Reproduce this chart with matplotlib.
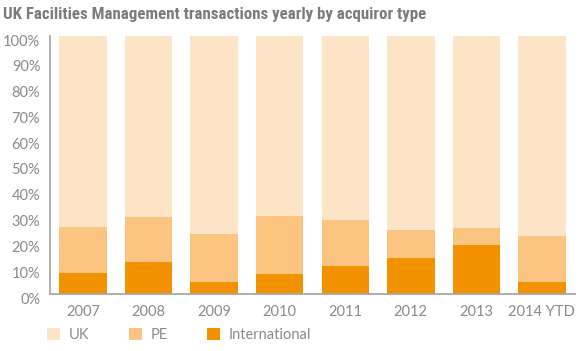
import numpy as np
import matplotlib
matplotlib.use("Agg")
import matplotlib.pyplot as plt
import matplotlib.transforms as mtrans

# datos (porcentajes)
anios = ['2007', '2008', '2009', '2010', '2011', '2012', '2013', '2014 YTD']
internacional = [8.3, 12.5, 4.8, 7.8, 10.9, 14.0, 19.0, 4.8]
pe = [17.6, 17.3, 18.5, 22.4, 17.8, 10.8, 6.6, 17.8]
uk = [100 - a - b for a, b in zip(internacional, pe)]

col_uk = '#fde4c6'
col_pe = '#fbc480'
col_int = '#f39200'
gris = '#8a8a8a'

plt.rcParams['font.family'] = ['Lato', 'DejaVu Sans']

fig = plt.figure(figsize=(5.84, 3.51), dpi=100)
ax = fig.add_axes([50 / 584, 1 - 294 / 351, 525 / 584, 258 / 351])

x = np.arange(len(anios))
ancho = 0.725
b1 = ax.bar(x, internacional, ancho, color=col_int, label='International')
b2 = ax.bar(x, pe, ancho, bottom=internacional, color=col_pe, label='PE')
base_uk = [a + b for a, b in zip(internacional, pe)]
b3 = ax.bar(x, uk, ancho, bottom=base_uk, color=col_uk, label='UK')

ax.set_xlim(-0.505, len(anios) - 0.495)
ax.set_ylim(0, 100)
ax.set_yticks(np.arange(0, 101, 10))
ax.set_yticklabels([f'{v}%' for v in range(0, 101, 10)])
ax.set_xticks(x)
ax.set_xticklabels(anios)

for s in ['top', 'right']:
    ax.spines[s].set_visible(False)
for s in ['left', 'bottom']:
    ax.spines[s].set_color('#a8a8a8')
    ax.spines[s].set_linewidth(1.3)

ax.tick_params(length=0, colors=gris, labelsize=10.5)
ax.tick_params(axis='y', pad=7)
ax.tick_params(axis='x', pad=8)

# las etiquetas del eje y estan un poco por debajo de su valor
off = mtrans.ScaledTranslation(0, -4 / 100, fig.dpi_scale_trans)
for t in ax.get_yticklabels():
    t.set_transform(t.get_transform() + off)

titulo = fig.text(3 / 584, 1 - 14 / 351,
                  'UK Facilities Management transactions yearly by acquiror type',
                  family=['Roboto Condensed', 'Liberation Sans Narrow', 'Roboto', 'DejaVu Sans'],
                  fontweight='bold', fontsize=12, color='#7b7b7b', va='center', ha='left')
# ajustar el tamaño para que el titulo ocupe ~423 px como en la imagen
r = fig.canvas.get_renderer()
w = titulo.get_window_extent(r).width
titulo.set_fontsize(12 * 423 / w)

leg = fig.legend(handles=[b3, b2, b1], labels=['UK', 'PE', 'International'],
                 loc='center left', bbox_to_anchor=(47 / 584, 1 - 335 / 351),
                 ncol=3, frameon=False, fontsize=10.5, handlelength=0.9,
                 handleheight=0.9, handletextpad=0.6, columnspacing=2.7,
                 borderpad=0, borderaxespad=0)
for t in leg.get_texts():
    t.set_color(gris)

fig.savefig('out.png', dpi=100)
